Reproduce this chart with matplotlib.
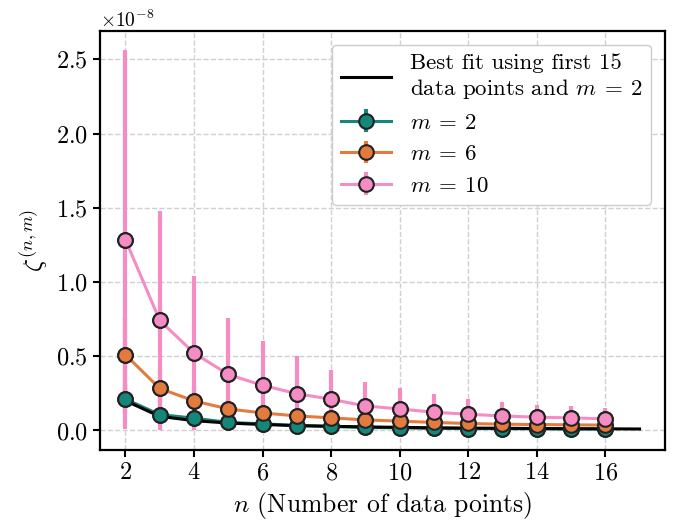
import matplotlib
matplotlib.use("Agg")
import matplotlib.pyplot as plt
import numpy as np

plt.rcParams["font.family"] = "serif"
plt.rcParams["font.serif"] = ["cmr10"]
plt.rcParams["mathtext.fontset"] = "cm"
plt.rcParams["axes.formatter.use_mathtext"] = True
plt.rcParams["axes.unicode_minus"] = False

n = [2, 3, 4, 5, 6, 7, 8, 9, 10, 11, 12, 13, 14, 15, 16]

# values in units of 1e-8
zeta_m2 = [0.211, 0.107, 0.083, 0.054, 0.045, 0.033, 0.027, 0.020, 0.018, 0.014, 0.013, 0.012, 0.011, 0.010, 0.010]
zeta_m6 = [0.510, 0.283, 0.199, 0.145, 0.118, 0.098, 0.085, 0.071, 0.063, 0.054, 0.047, 0.042, 0.040, 0.038, 0.036]
zeta_m10 = [1.285, 0.741, 0.522, 0.377, 0.304, 0.248, 0.210, 0.165, 0.145, 0.123, 0.109, 0.098, 0.089, 0.085, 0.078]

err_m2 = [0.10, 0.05, 0.04, 0.03, 0.02, 0.015, 0.012, 0.010, 0.009, 0.007, 0.006, 0.006, 0.005, 0.005, 0.005]
err_m6 = [0.25, 0.14, 0.10, 0.07, 0.06, 0.05, 0.04, 0.035, 0.03, 0.027, 0.023, 0.021, 0.02, 0.019, 0.018]
err_m10 = [1.278, 0.740, 0.520, 0.378, 0.302, 0.252, 0.196, 0.161, 0.141, 0.123, 0.103, 0.092, 0.081, 0.078, 0.074]

fit_n = [2, 3, 4, 5, 6, 7, 8, 9, 10, 11, 12, 13, 14, 15, 16, 17]
fit_vals = [0.200, 0.095, 0.066, 0.050, 0.040, 0.033, 0.028, 0.024, 0.021, 0.018, 0.016, 0.015, 0.013, 0.012, 0.011, 0.010]

teal = "#14877a"
orange = "#e37b3f"
pink = "#f68cc4"

scale = 1e-8

fig = plt.figure(figsize=(6.74, 5.24), dpi=100)
ax = fig.add_axes([0.148, 0.141, 0.839, 0.8])

ax.plot(fit_n, np.array(fit_vals) * scale, color="black", lw=2.2, zorder=3,
        label="Best fit using first 15\ndata points and $m\\:=\\:2$")

series = [(zeta_m2, err_m2, teal, "$m\\:=\\:2$", 4.1),
          (zeta_m6, err_m6, orange, "$m\\:=\\:6$", 4.2),
          (zeta_m10, err_m10, pink, "$m\\:=\\:10$", 4.3)]

for vals, errs, col, lab, z in series:
    v = np.array(vals) * scale
    e = np.array(errs) * scale
    ax.errorbar(n, v, yerr=e, color=col, lw=2.2, elinewidth=3, marker="o", ms=10.5,
                mfc=col, mec="#222222", mew=1.5, label=lab, zorder=2)

for vals, errs, col, lab, z in series:
    v = np.array(vals) * scale
    ax.plot(n, v, "o", ms=10.5, mfc=col, mec="#222222", mew=1.5, zorder=z)

ax.set_xticks([2, 4, 6, 8, 10, 12, 14, 16])
ax.set_yticks(np.array([0.0, 0.5, 1.0, 1.5, 2.0, 2.5]) * scale)
ax.tick_params(labelsize=17.5, width=1.5, length=5)
for s in ax.spines.values():
    s.set_linewidth(1.6)
ax.yaxis.get_offset_text().set_fontsize(14)

ax.grid(True, linestyle="--", color="#d0d0d0", lw=1)
ax.set_axisbelow(True)

ax.set_xlabel("$n$ (Number of data points)", fontsize=18.5)
ax.set_ylabel(r"$\zeta^{(n,m)}$", fontsize=18.5)

ax.legend(loc="upper right", fontsize=16.5, framealpha=1, edgecolor="#cccccc",
          handlelength=2.2, borderaxespad=0.6)

fig.savefig("out.png", dpi=100)
